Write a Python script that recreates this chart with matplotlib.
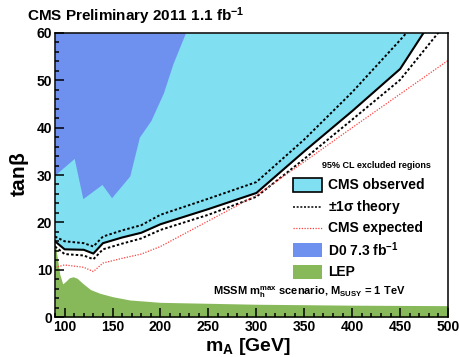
import matplotlib
matplotlib.use("Agg")
from matplotlib import pyplot as plt
from matplotlib.patches import Rectangle
from matplotlib.ticker import MultipleLocator

plt.rcParams['font.family'] = ['Liberation Sans', 'DejaVu Sans']
plt.rcParams['font.weight'] = 'bold'
plt.rcParams['mathtext.fontset'] = 'custom'
plt.rcParams['mathtext.rm'] = 'Liberation Sans:bold'
plt.rcParams['mathtext.it'] = 'Liberation Sans:bold'
plt.rcParams['mathtext.bf'] = 'Liberation Sans:bold'
plt.rcParams['mathtext.default'] = 'bf'

# limites em m_A (GeV) e tan(beta)
m_A = [90, 100, 120, 130, 140, 160, 180, 200, 250, 300, 350, 400, 450, 500]
tb_observado = [16.0, 14.3, 14.2, 13.4, 15.6, 16.8, 17.8, 19.6, 22.8, 26.2, 35.0, 43.5, 52.4, 68.0]
tb_teoria_sup = [17.0, 16.0, 15.6, 14.9, 17.0, 18.3, 19.4, 21.6, 25.0, 28.5, 37.5, 47.5, 58.5, 70.0]
tb_teoria_inf = [14.9, 13.3, 13.0, 12.2, 14.3, 15.5, 16.6, 18.4, 21.6, 25.4, 33.4, 41.7, 50.1, 62.6]
tb_esperado = [10.5, 11.0, 10.5, 9.6, 11.4, 12.4, 13.3, 14.9, 20.3, 25.7, 32.8, 40.0, 47.1, 54.2]

# regiao excluida pelo D0
m_d0 = [90, 110, 119, 139, 149, 168, 178, 190, 203, 213, 226]
tb_d0 = [30.0, 33.5, 25.0, 28.0, 25.2, 29.8, 38.0, 41.5, 47.3, 53.5, 60.0]

# regiao excluida pelo LEP
m_lep = [90, 92, 95, 98, 101, 105, 109, 113, 119, 127, 137, 150, 168, 200, 250, 300, 400, 500]
tb_lep = [16.0, 13.0, 9.0, 7.0, 7.5, 8.3, 8.5, 8.2, 7.1, 5.8, 5.0, 4.3, 3.6, 3.1, 2.9, 2.7, 2.5, 2.4]

cor_cms = '#80e0f2'
cor_d0 = '#6e91f0'
cor_lep = '#87b95a'
cor_esperado = '#ff4040'

fig = plt.figure(figsize=(4.6, 3.57), dpi=100)
ax = fig.add_axes([0.1196, 0.112, 0.8544, 0.7956])

ax.fill_between(m_A, tb_observado, 60, color=cor_cms, lw=0)
ax.fill_between(m_d0, tb_d0, 60, color=cor_d0, lw=0)
ax.fill_between(m_lep, 0, tb_lep, color=cor_lep, lw=0)

tracejado = (0, (1.3, 1.1))
ax.plot(m_A, tb_teoria_sup, color='black', lw=1.4, ls=tracejado)
ax.plot(m_A, tb_teoria_inf, color='black', lw=1.4, ls=tracejado)
ax.plot(m_A, tb_esperado, color=cor_esperado, lw=0.9, ls=(0, (1, 1.2)))
ax.plot(m_A, tb_observado, color='black', lw=1.5)

ax.set_xlim(90, 500)
ax.set_ylim(0, 60)
ax.xaxis.set_major_locator(MultipleLocator(50))
ax.xaxis.set_minor_locator(MultipleLocator(10))
ax.yaxis.set_major_locator(MultipleLocator(10))
ax.yaxis.set_minor_locator(MultipleLocator(2))
ax.tick_params(which='both', direction='in', width=1.1, labelsize=10)
ax.tick_params(which='major', length=6.5)
ax.tick_params(which='minor', length=3.2)
ax.tick_params(axis='x', pad=2)
ax.tick_params(axis='y', pad=2)
for spine in ax.spines.values():
    spine.set_linewidth(1.1)

fig.text(0.059, 0.941, r"CMS Preliminary 2011 1.1 fb$^{-1}$", fontsize=11, ha='left', va='baseline')
fig.text(0.042, 0.513, r"tan$\beta$", fontsize=15, rotation=90, ha='center', va='center')
fig.text(0.539, 0.018, r"m$_{A}$ [GeV]", fontsize=14, ha='center', va='baseline')

# legenda desenhada a mao
ax.text(0.679, 0.535, "95% CL excluded regions", transform=ax.transAxes, fontsize=6.5, va='center')
linhas_y = [0.4648, 0.3873, 0.3134, 0.2359, 0.1585]
x0, x1, h = 0.6056, 0.6794, 0.0493
ax.add_patch(Rectangle((x0, linhas_y[0] - h / 2), x1 - x0, h, transform=ax.transAxes,
                       facecolor=cor_cms, edgecolor='black', lw=1.2, clip_on=False))
ax.plot([x0, x1], [linhas_y[1]] * 2, transform=ax.transAxes, color='black', lw=1.1, ls=(0, (1.3, 1.1)))
ax.plot([x0, x1], [linhas_y[2]] * 2, transform=ax.transAxes, color=cor_esperado, lw=0.9, ls=(0, (1, 1.2)))
ax.add_patch(Rectangle((x0, linhas_y[3] - h / 2), x1 - x0, h, transform=ax.transAxes,
                       facecolor=cor_d0, edgecolor='none', clip_on=False))
ax.add_patch(Rectangle((x0, linhas_y[4] - h / 2), x1 - x0, h, transform=ax.transAxes,
                       facecolor=cor_lep, edgecolor='none', clip_on=False))
rotulos = ["CMS observed", r"$\pm$1$\sigma$ theory", "CMS expected", r"D0 7.3 fb$^{-1}$", "LEP"]
for y, rotulo in zip(linhas_y, rotulos):
    ax.text(0.6947, y, rotulo, transform=ax.transAxes, fontsize=10, va='center')

ax.text(0.402, 0.088, r"MSSM m$_{h}^{max}$ scenario, M$_{SUSY}$ = 1 TeV",
        transform=ax.transAxes, fontsize=8, va='center')

plt.savefig("out.png", dpi=100)
